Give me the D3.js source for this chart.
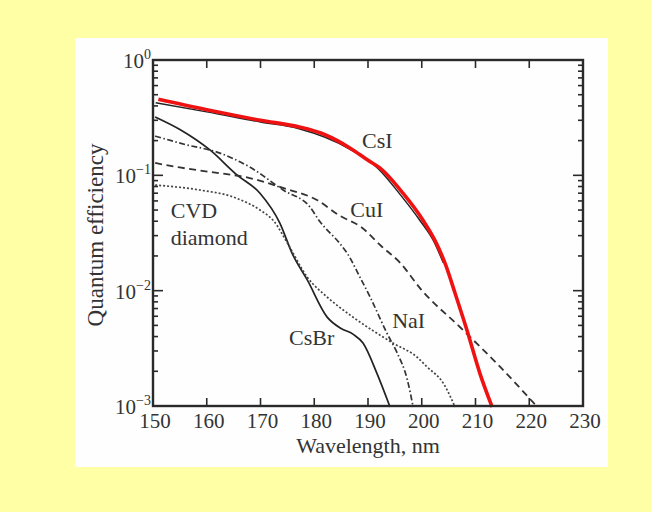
<!DOCTYPE html>
<html>
<head>
<meta charset="utf-8">
<script src="https://cdn.jsdelivr.net/npm/d3@7"></script>
<style>
    body { margin: 0; padding: 0; background: #ffffa6; }
    svg { display: block; }
</style>
</head>
<body>
<div id="chart-area"></div>
<script>

// wavelength (nm), quantum efficiency pairs
const csiRed = [[151, 0.456], [160, 0.37], [170, 0.30], [177.4, 0.261], [182, 0.225], [186.7, 0.172],
    [190, 0.135], [192.2, 0.116], [196.5, 0.070], [200.2, 0.041], [202.5, 0.027], [204.5, 0.0165],
    [206.2, 0.0095], [208.4, 0.00456], [210.8, 0.00193], [213.1, 0.00098]];
const csiBlack = [[150.5, 0.425], [160, 0.355], [170, 0.29], [177, 0.255], [186.5, 0.17],
    [192, 0.113], [196, 0.068], [199.6, 0.041], [202.2, 0.027], [204, 0.0175]];
const csbr = [[150.4, 0.321], [155, 0.25], [160.6, 0.166], [165.6, 0.101], [169.9, 0.070], [173.6, 0.0386],
    [176, 0.0205], [178.7, 0.0124], [182.4, 0.0059], [185, 0.0047], [187.2, 0.0042], [189.1, 0.0035],
    [191.7, 0.0019], [194.1, 0.00098]];
const nai = [[150.4, 0.219], [156, 0.185], [161.9, 0.159], [168, 0.118], [174.2, 0.0746], [179.2, 0.0531],
    [181, 0.040], [184.8, 0.0255], [186.1, 0.0212], [188.5, 0.0131], [190.4, 0.0088], [193.5, 0.0043],
    [195.4, 0.0029], [197.3, 0.0017], [198.4, 0.00098]];
const cui = [[150.4, 0.128], [155, 0.117], [160.6, 0.107], [168, 0.0948], [174.2, 0.0777], [180.5, 0.0611],
    [184.8, 0.0445], [188.7, 0.0357], [192.4, 0.0245], [196, 0.0174], [199.9, 0.0102], [207.1, 0.00484],
    [214.6, 0.00218], [221.5, 0.00098]];
const cvd = [[150.4, 0.0824], [158.7, 0.0746], [164.9, 0.0649], [169.9, 0.050], [172.5, 0.040], [175, 0.0259],
    [178.7, 0.0131], [182.4, 0.0088], [187.2, 0.0059], [194.7, 0.0035], [199.1, 0.00266], [201, 0.00218],
    [204, 0.00158], [206.2, 0.00098]];

const xTicks = [150, 160, 170, 180, 190, 200, 210, 220, 230];
const yDecades = [0, -1, -2, -3];

const seriesLabels = [
    { text: "CsI", wl: 188.9, qe: 0.173 },
    { text: "CuI", wl: 186.7, qe: 0.0435 },
    { text: "CVD", wl: 153.3, qe: 0.0427 },
    { text: "diamond", wl: 153.3, qe: 0.0249 },
    { text: "CsBr", wl: 175.3, qe: 0.00338 },
    { text: "NaI", wl: 194.5, qe: 0.00474 }
];

class QeChart {

    constructor(parentElement) {
        this.parentElement = parentElement;
        this.series = [
            { data: csiBlack, color: "#222", width: 1.5, dash: null },
            { data: csbr, color: "#222", width: 1.7, dash: null },
            { data: nai, color: "#333", width: 1.7, dash: "6,2.5,1.5,2.5" },
            { data: cui, color: "#333", width: 1.8, dash: "7,4.5" },
            { data: cvd, color: "#444", width: 1.7, dash: "2,2" },
            { data: csiRed, color: "#ee1212", width: 3.6, dash: null }
        ];
        this.initVis();
    }

    initVis() {
        let vis = this;

        vis.width = 651;
        vis.height = 512;
        vis.plot = { left: 153, right: 583, top: 60, bottom: 406 };

        vis.svg = d3.select("#" + vis.parentElement).append("svg")
            .attr("width", vis.width)
            .attr("height", vis.height);

        // backgrounds
        vis.svg.append("rect")
            .attr("width", vis.width).attr("height", vis.height)
            .attr("fill", "#ffffa6");
        vis.svg.append("rect")
            .attr("x", 75).attr("y", 38)
            .attr("width", 533).attr("height", 429)
            .attr("fill", "#fefefe");

        vis.x = d3.scaleLinear()
            .domain([150, 230])
            .range([vis.plot.left, vis.plot.right]);

        vis.y = d3.scaleLog()
            .domain([1e-3, 1])
            .range([vis.plot.bottom, vis.plot.top]);

        vis.wrangleData();
    }

    wrangleData() {
        let vis = this;
        // minor log ticks 1..9 in every decade
        vis.yMinor = vis.y.ticks().filter(d => d > 1e-3 && d < 1);
        vis.updateVis();
    }

    updateVis() {
        let vis = this;
        let p = vis.plot;
        let ink = "#2a2a2a";

        // x ticks, inward on bottom and top
        let xt = vis.svg.append("g").attr("class", "x-ticks");
        xTicks.slice(1, -1).forEach(t => {
            xt.append("line")
                .attr("x1", vis.x(t)).attr("x2", vis.x(t))
                .attr("y1", p.bottom).attr("y2", p.bottom - 8)
                .attr("stroke", ink).attr("stroke-width", 1.6);
            xt.append("line")
                .attr("x1", vis.x(t)).attr("x2", vis.x(t))
                .attr("y1", p.top).attr("y2", p.top + 8)
                .attr("stroke", ink).attr("stroke-width", 1.6);
        });
        xt.selectAll("text").data(xTicks)
            .enter()
            .append("text")
            .attr("x", d => vis.x(d) + 2)
            .attr("y", 428)
            .attr("text-anchor", "middle")
            .style("font-family", "Liberation Serif")
            .style("font-size", "21px")
            .style("fill", "#333")
            .text(d => d);

        // y ticks, inward on left and right
        let yt = vis.svg.append("g").attr("class", "y-ticks");
        vis.yMinor.forEach(v => {
            let major = Math.abs(Math.log10(v) - Math.round(Math.log10(v))) < 1e-6;
            let len = major ? 10 : 5;
            yt.append("line")
                .attr("x1", p.left).attr("x2", p.left + len)
                .attr("y1", vis.y(v)).attr("y2", vis.y(v))
                .attr("stroke", ink).attr("stroke-width", 1.6);
            yt.append("line")
                .attr("x1", p.right).attr("x2", p.right - len)
                .attr("y1", vis.y(v)).attr("y2", vis.y(v))
                .attr("stroke", ink).attr("stroke-width", 1.6);
        });

        yDecades.forEach(e => {
            let label = yt.append("text")
                .attr("x", 151)
                .attr("y", vis.y(Math.pow(10, e)) + 8)
                .attr("text-anchor", "end")
                .style("font-family", "Liberation Serif")
                .style("font-size", "21px")
                .style("fill", "#333");
            label.append("tspan").text("10");
            label.append("tspan")
                .attr("dy", -9)
                .style("font-size", "14px")
                .text(e === 0 ? "0" : "\u2212" + Math.abs(e));
        });

        // curves
        let line = d3.line()
            .x(d => vis.x(d[0]))
            .y(d => vis.y(d[1]))
            .curve(d3.curveMonotoneX);

        vis.svg.append("g").attr("class", "curves")
            .selectAll("path").data(vis.series)
            .enter()
            .append("path")
            .attr("d", d => line(d.data))
            .attr("fill", "none")
            .attr("stroke", d => d.color)
            .attr("stroke-width", d => d.width)
            .attr("stroke-dasharray", d => d.dash)
            .attr("stroke-linejoin", "round");

        // frame
        vis.svg.append("rect")
            .attr("x", p.left).attr("y", p.top)
            .attr("width", p.right - p.left).attr("height", p.bottom - p.top)
            .attr("fill", "none")
            .attr("stroke", ink)
            .attr("stroke-width", 2.4);

        // series names
        vis.svg.append("g").attr("class", "series-labels")
            .selectAll("text").data(seriesLabels)
            .enter()
            .append("text")
            .attr("x", d => vis.x(d.wl))
            .attr("y", d => vis.y(d.qe))
            .style("font-family", "Liberation Serif")
            .style("font-size", "22px")
            .style("fill", "#333")
            .text(d => d.text);

        // axis titles
        vis.svg.append("text")
            .attr("x", 368).attr("y", 453)
            .attr("text-anchor", "middle")
            .style("font-family", "Liberation Serif")
            .style("font-size", "22px")
            .style("fill", "#333")
            .text("Wavelength, nm");

        vis.svg.append("text")
            .attr("transform", "translate(103, 235) rotate(-90)")
            .attr("text-anchor", "middle")
            .style("font-family", "Liberation Serif")
            .style("font-size", "23px")
            .style("fill", "#333")
            .text("Quantum efficiency");
    }
}

new QeChart("chart-area");
</script>
</body>
</html>
